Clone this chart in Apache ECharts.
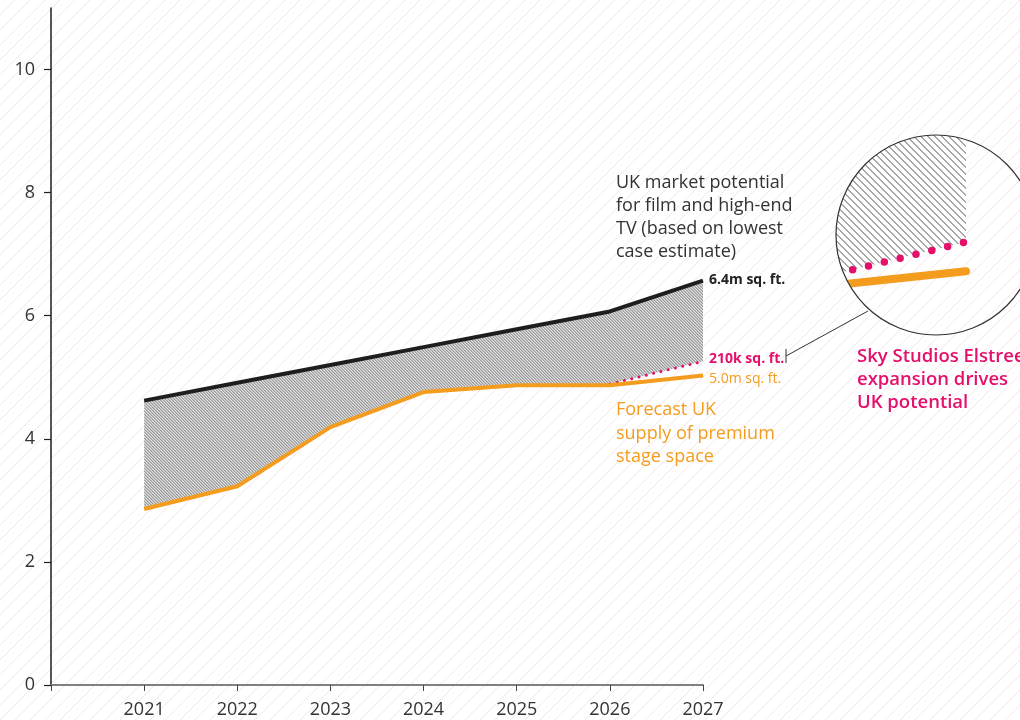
<!DOCTYPE html>
<html>
<head>
<meta charset="utf-8">
<script src="https://cdn.jsdelivr.net/npm/echarts@6/dist/echarts.min.js"></script>
<style>
html,body{margin:0;padding:0;background:#fff;}
#chart{width:1020px;height:720px;}
</style>
</head>
<body>
<div id="chart"></div>
<script>
// ---- data ----
const years = [2021, 2022, 2023, 2024, 2025, 2026, 2027];
const potential = [4.62, 4.91, 5.20, 5.49, 5.78, 6.07, 6.57];   // UK market potential (m sq ft)
const supply = [2.86, 3.23, 4.19, 4.76, 4.87, 4.87, 5.03];      // forecast supply of premium stage space
const elstreeYears = [2026, 2027];
const elstree = [4.89, 5.26];                                    // with Sky Studios Elstree expansion
const xTickValues = [2020, 2021, 2022, 2023, 2024, 2025, 2026, 2027];
const xLabelValues = [2021, 2022, 2023, 2024, 2025, 2026, 2027];
const yTickValues = [0, 2, 4, 6, 8, 10];

// ---- helpers ----
function hatch(period, thick, color, bg, dir, soft) {
  const c = document.createElement('canvas');
  c.width = c.height = period;
  const ctx = c.getContext('2d');
  if (bg) { ctx.fillStyle = bg; ctx.fillRect(0, 0, period, period); }
  for (let i = 0; i < period; i++) {
    for (let t = 0; t < thick; t++) {
      const x = dir === 'back' ? (i + t) % period : (period - 1 - i + t + period) % period;
      ctx.fillStyle = color;
      ctx.fillRect(x, i, 1, 1);
    }
    if (soft) {
      const x2 = dir === 'back' ? (i + thick) % period : (period - 1 - i + thick + period) % period;
      ctx.fillStyle = soft;
      ctx.fillRect(x2, i, 1, 1);
    }
  }
  return c;
}
const bgPattern = { image: hatch(15, 1, '#f4e5e9', '#ffffff', 'fwd'), repeat: 'repeat' };
const mainHatch = { image: hatch(3, 1, '#9c9c9c', '#dedede', 'back', '#bcbcbc'), repeat: 'repeat' };
const insetHatch = { image: hatch(7, 2, '#a6a6a6', '#ffffff', 'back'), repeat: 'repeat' };

// lower edge of the shaded gap: supply, or the Elstree line where it exists
const lower = years.map((y, i) => {
  const j = elstreeYears.indexOf(y);
  return j >= 0 ? elstree[j] : supply[i];
});
const pairs = (xs, ys) => xs.map((x, i) => [x, ys[i]]);

const BLACK = '#1e1e1e', ORANGE = '#f39c1d', PINK = '#e4106c', TEXT = '#333333';
const FONT = '"Open Sans", "Noto Sans", sans-serif';

// inset magnifier (zoom of the 2026-2027 end of the chart)
const insetBox = { left: 836, top: 135, size: 200 };
const insetCircle = { cx: 936, cy: 235, r: 100 };
const insetXmin = 2026.3247, insetXmax = 2027.3636;
const insetYmin = 4.5306, insetYmax = 6.0992;

function gapPolygon(api) {
  const top = years.map((y, i) => api.coord([y, potential[i]]));
  const bottom = years.map((y, i) => api.coord([y, lower[i]])).reverse();
  return top.concat(bottom);
}

const chart = echarts.init(document.getElementById('chart'));

const option = {
  animation: false,
  backgroundColor: '#ffffff',
  grid: [
    { left: 51, right: 317, top: 8, bottom: 35, outerBoundsMode: 'none', containLabel: false },
    { left: insetBox.left, top: insetBox.top, width: insetBox.size, height: insetBox.size,
      outerBoundsMode: 'none', containLabel: false }
  ],
  xAxis: [
    {
      type: 'value', gridIndex: 0, min: 2020, max: 2027, interval: 1,
      axisLine: { show: true, onZero: false, lineStyle: { color: '#808080', width: 2 } },
      axisTick: { show: true, length: 6, customValues: xTickValues, lineStyle: { color: '#444', width: 1 } },
      axisLabel: { customValues: xLabelValues, margin: 16, color: TEXT, fontSize: 18, fontFamily: FONT,
        formatter: v => String(v) },
      splitLine: { show: false }
    },
    { type: 'value', gridIndex: 1, min: insetXmin, max: insetXmax, show: false, splitLine: { show: false } }
  ],
  yAxis: [
    {
      type: 'value', gridIndex: 0, min: 0, max: 11, interval: 1,
      axisLine: { show: true, lineStyle: { color: BLACK, width: 1.5 } },
      axisTick: { show: true, length: 7, customValues: yTickValues, lineStyle: { color: BLACK, width: 1.2 } },
      axisLabel: { customValues: yTickValues, margin: 16, color: TEXT, fontSize: 18, fontFamily: FONT },
      splitLine: { show: false }
    },
    { type: 'value', gridIndex: 1, min: insetYmin, max: insetYmax, show: false, splitLine: { show: false } }
  ],
  series: [
    // shaded gap between potential and supply (main chart)
    { type: 'custom', xAxisIndex: 0, yAxisIndex: 0, silent: true, z: 1,
      data: [[years[0], potential[0]]],
      renderItem: (params, api) => ({
        type: 'polygon',
        shape: { points: gapPolygon(api) },
        style: { fill: mainHatch, stroke: 'none' }
      })
    },
    { type: 'line', name: 'UK market potential', data: pairs(years, potential), symbol: 'none',
      lineStyle: { color: BLACK, width: 4, join: 'round' }, z: 5 },
    { type: 'line', name: 'Sky Studios Elstree', data: pairs(elstreeYears, elstree), symbol: 'none',
      lineStyle: { color: PINK, width: 3, type: [0, 7.5], cap: 'round' }, z: 4 },
    { type: 'line', name: 'Forecast supply', data: pairs(years, supply), symbol: 'none',
      lineStyle: { color: ORANGE, width: 4, join: 'round' }, z: 5 },
    // magnified inset, clipped to the circle
    { type: 'custom', xAxisIndex: 1, yAxisIndex: 1, silent: true, z: 10,
      data: [[elstreeYears[1], elstree[1]]],
      renderItem: (params, api) => ({
        type: 'group',
        clipPath: { type: 'circle', shape: { cx: insetCircle.cx, cy: insetCircle.cy, r: insetCircle.r } },
        children: [
          { type: 'polygon', shape: { points: gapPolygon(api) },
            style: { fill: insetHatch, stroke: 'none' } },
          { type: 'polyline', shape: { points: years.map((y, i) => api.coord([y, supply[i]])) },
            style: { stroke: ORANGE, lineWidth: 8, lineCap: 'round', lineJoin: 'round', fill: 'none' } },
          { type: 'polyline', shape: { points: elstreeYears.map((y, i) => api.coord([y, elstree[i]])) },
            style: { stroke: PINK, lineWidth: 7.5, lineDash: [0, 16.3], lineCap: 'round', fill: 'none' } }
        ]
      })
    }
  ],
  graphic: [
    { type: 'rect', z: -10, silent: true, shape: { x: 0, y: 0, width: 1020, height: 720 },
      style: { fill: bgPattern } },
    { type: 'circle', z: 51, silent: true,
      shape: { cx: insetCircle.cx, cy: insetCircle.cy, r: insetCircle.r },
      style: { fill: 'none', stroke: '#333', lineWidth: 1.2 } },
    // connector
    { type: 'line', z: 52, silent: true, shape: { x1: 786, y1: 356, x2: 868, y2: 311 },
      style: { stroke: '#333', lineWidth: 1 } },
    { type: 'line', z: 52, silent: true, shape: { x1: 786, y1: 349, x2: 786, y2: 363 },
      style: { stroke: '#333', lineWidth: 1 } },
    // annotations
    { type: 'text', z: 60, x: 616, y: 171.5, silent: true,
      style: { text: 'UK market potential\nfor film and high-end\nTV (based on lowest\ncase estimate)',
        font: '18px ' + FONT, fill: TEXT, lineHeight: 23, verticalAlign: 'top', align: 'left' } },
    { type: 'text', z: 60, x: 709, y: 280, silent: true,
      style: { text: '6.4m sq. ft.', font: 'bold 14px ' + FONT, fill: '#222', verticalAlign: 'middle', align: 'left' } },
    { type: 'text', z: 60, x: 709, y: 359, silent: true,
      style: { text: '210k sq. ft.', font: 'bold 14px ' + FONT, fill: PINK, verticalAlign: 'middle', align: 'left' } },
    { type: 'text', z: 60, x: 709, y: 379, silent: true,
      style: { text: '5.0m sq. ft.', font: '14px ' + FONT, fill: ORANGE, verticalAlign: 'middle', align: 'left' } },
    { type: 'text', z: 60, x: 616, y: 398.5, silent: true,
      style: { text: 'Forecast UK\nsupply of premium\nstage space',
        font: '18px ' + FONT, fill: ORANGE, lineHeight: 23.5, verticalAlign: 'top', align: 'left' } },
    { type: 'text', z: 60, x: 857, y: 345.5, silent: true,
      style: { text: 'Sky Studios Elstree\nexpansion drives\nUK potential',
        font: '600 18.5px ' + FONT, fill: PINK, lineHeight: 23, verticalAlign: 'top', align: 'left' } }
  ]
};
chart.setOption(option);
</script>
</body>
</html>
